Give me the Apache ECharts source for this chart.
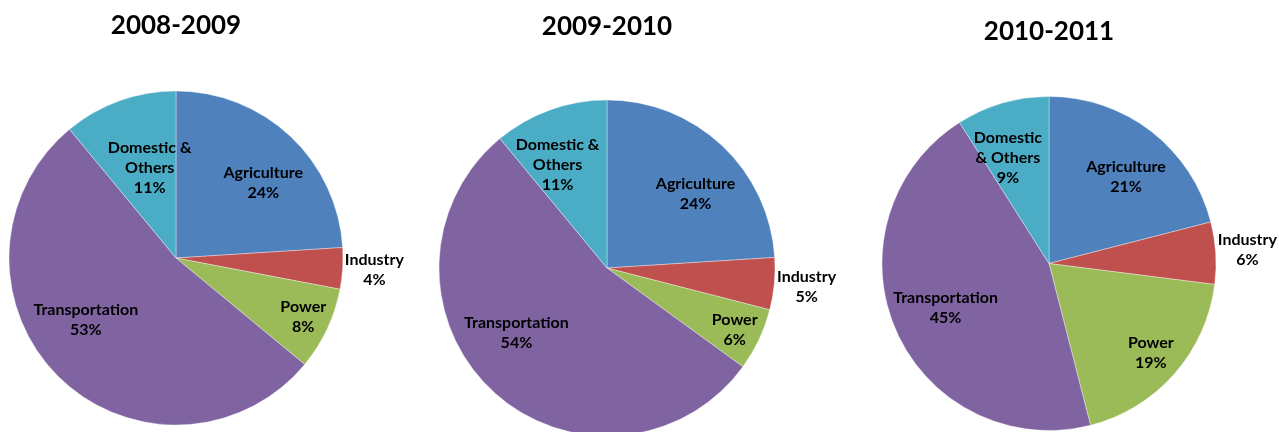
<!DOCTYPE html>
<html>
<head>
<meta charset="utf-8">
<script src="https://cdn.jsdelivr.net/npm/echarts@6/dist/echarts.min.js"></script>
<style>
html,body{margin:0;padding:0;background:#fff;}
#chart{width:1279px;height:432px;}
</style>
</head>
<body>
<div id="chart"></div>
<script>
var categories = ['Agriculture', 'Industry', 'Power', 'Transportation', 'Domestic & Others'];
var titles = ['2008-2009', '2009-2010', '2010-2011'];
var values2008 = [24, 4, 8, 53, 11];
var values2009 = [24, 5, 6, 54, 11];
var values2010 = [21, 6, 19, 45, 9];
var labelNames2008 = ['Agriculture', 'Industry', 'Power', 'Transportation', 'Domestic &\nOthers'];
var labelNames2009 = ['Agriculture', 'Industry', 'Power', 'Transportation', 'Domestic &\nOthers'];
var labelNames2010 = ['Agriculture', 'Industry', 'Power', 'Transportation', 'Domestic\n& Others'];

var colors = ['#4F81BD', '#C0504D', '#9BBB59', '#8064A2', '#4BACC6'];

// layout (style) settings
var pies = [
  {values: values2008, names: labelNames2008, center: [176, 258], r: 167, titleTop: 12,
   shift: [[28, -12], [112, 6], [49, 22], [-29, 1], [3, -9]]},
  {values: values2009, names: labelNames2009, center: [607, 268], r: 168, titleTop: 13,
   shift: [[29, -11], [113, 11], [49, 25], [-31, 1], [-20, -21]]},
  {values: values2010, names: labelNames2010, center: [1049, 263.5], r: 167, titleTop: 18,
   shift: [[24, -18], [112, -8], [37, 32], [-24, 10], [-17, -23]]}
];

var chart = echarts.init(document.getElementById('chart'), null, {renderer: 'canvas'});
var font = 'Lato, "Open Sans", sans-serif';

var titleOpts = pies.map(function (p, i) {
  return {
    text: titles[i],
    left: p.center[0],
    top: p.titleTop,
    textAlign: 'center',
    padding: 0,
    textStyle: {fontFamily: font, fontSize: 26, fontWeight: 'bold', color: '#000', lineHeight: 28}
  };
});

var seriesOpts = pies.map(function (p, k) {
  return {
    type: 'pie',
    center: p.center,
    radius: p.r,
    startAngle: 90,
    clockwise: true,
    avoidLabelOverlap: false,
    animation: false,
    emphasis: {disabled: true},
    itemStyle: {borderColor: 'rgba(255,255,255,0.6)', borderWidth: 0.6},
    label: {
      show: true,
      position: 'inside',
      fontFamily: font,
      fontSize: 16,
      fontWeight: 'bold',
      color: '#000',
      lineHeight: 20,
      align: 'center',
      formatter: function (params) {
        return p.names[params.dataIndex] + '\n' + params.value + '%';
      }
    },
    labelLine: {show: false},
    labelLayout: function (params) {
      var s = p.shift[params.dataIndex];
      return {dx: s[0], dy: s[1]};
    },
    data: categories.map(function (c, i) {
      return {name: c, value: p.values[i], itemStyle: {color: colors[i]}};
    })
  };
});

chart.setOption({
  backgroundColor: '#ffffff',
  animation: false,
  title: titleOpts,
  series: seriesOpts
});
</script>
</body>
</html>
